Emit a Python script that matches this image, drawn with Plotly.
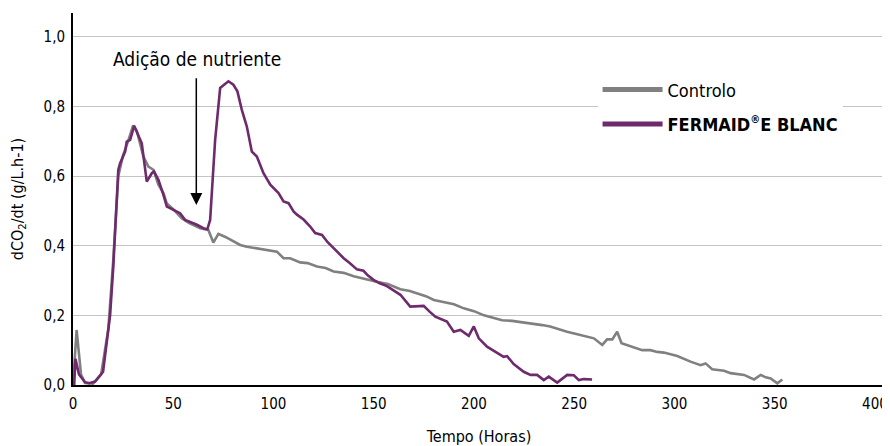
import plotly.graph_objects as go

# Controlo (grey)
ctrl_h = [0, 1.8, 4, 6, 10, 14, 17.6, 20.1, 22.6, 25, 27.5, 30, 31.8, 33.5, 35.1, 37.6, 40.1, 42.6, 45.1, 46.8,
          50, 54.2, 58, 63.4, 67.5, 70, 72.5, 76, 80, 83.4, 86.7, 91, 95, 98, 101.7, 105, 108.3, 113.3, 117,
          121.7, 126, 130, 135, 140, 146.6, 152, 157, 163.3, 168, 172, 176, 180, 185, 190, 194.9, 200, 205,
          209.8, 214, 219, 224, 229.8, 234, 238, 242, 246.4, 250, 254.7, 259.8, 264, 266.4, 269, 271.4, 273.6,
          278, 283.9, 288, 291.4, 294.7, 301.4, 308, 313, 315.5, 318.8, 324.7, 328, 334.7, 339.7, 343, 345.5,
          348, 351.3, 353.8]
ctrl_v = [0.0, 0.158, 0.03, 0.006, 0.004, 0.03, 0.16, 0.36, 0.6, 0.66, 0.7, 0.745, 0.73, 0.69, 0.656, 0.627,
          0.618, 0.575, 0.551, 0.521, 0.505, 0.479, 0.465, 0.45, 0.445, 0.409, 0.434, 0.425, 0.412, 0.402,
          0.397, 0.393, 0.388, 0.385, 0.383, 0.364, 0.364, 0.352, 0.35, 0.34, 0.336, 0.326, 0.322, 0.312,
          0.302, 0.296, 0.29, 0.275, 0.27, 0.262, 0.255, 0.244, 0.238, 0.232, 0.22, 0.212, 0.2, 0.192, 0.186,
          0.184, 0.18, 0.177, 0.172, 0.168, 0.16, 0.153, 0.148, 0.141, 0.134, 0.115, 0.131, 0.131, 0.153, 0.12,
          0.112, 0.1, 0.1, 0.095, 0.093, 0.083, 0.067, 0.057, 0.062, 0.045, 0.041, 0.034, 0.029, 0.016, 0.029,
          0.022, 0.019, 0.005, 0.016]

# FERMAID E BLANC (purple)
ferm_h = [0.6, 1.2, 3, 6, 8, 11, 15, 17.6, 18.5, 20.1, 22.6, 23.5, 26, 26.8, 28.5, 30.5, 31.8, 34.3, 36.8,
          39.3, 40.4, 42.6, 45.1, 46.8, 48.4, 53.4, 55.9, 61.8, 65, 67, 68.4, 69.2, 70.9, 73.4, 77.5, 80, 82,
          84.2, 86.7, 89.2, 91.7, 95, 98.4, 102.5, 105, 107.5, 110, 111.7, 115, 118.3, 120.8, 124.2, 127, 130,
          135, 138, 141.6, 144.9, 147, 149.9, 153, 156.6, 160, 163.3, 168.2, 174.9, 178, 180.7, 186.5, 189.9,
          193.2, 197.4, 199.9, 202.4, 206.5, 210.7, 214.8, 216.5, 219.8, 224.8, 228.2, 231.5, 234.8, 237.3,
          241.5, 246.5, 249.8, 252.3, 254.8, 258.9]
ferm_v = [0.0, 0.075, 0.03, 0.008, 0.005, 0.01, 0.038, 0.148, 0.2, 0.34, 0.618, 0.637, 0.67, 0.699, 0.704,
          0.744, 0.728, 0.694, 0.584, 0.608, 0.613, 0.589, 0.546, 0.512, 0.508, 0.493, 0.474, 0.46, 0.45, 0.447,
          0.474, 0.551, 0.704, 0.853, 0.872, 0.862, 0.843, 0.79, 0.742, 0.67, 0.656, 0.608, 0.575, 0.551, 0.527,
          0.522, 0.498, 0.489, 0.475, 0.455, 0.436, 0.431, 0.41, 0.393, 0.364, 0.35, 0.332, 0.328, 0.315, 0.302,
          0.292, 0.284, 0.272, 0.259, 0.225, 0.227, 0.21, 0.196, 0.182, 0.153, 0.158, 0.141, 0.168, 0.134, 0.11,
          0.096, 0.081, 0.083, 0.06, 0.038, 0.029, 0.029, 0.014, 0.024, 0.007, 0.029, 0.028, 0.014, 0.017,
          0.016]

y_ticks = [0, 0.2, 0.4, 0.6, 0.8, 1.0]
x_ticks = [0, 50, 100, 150, 200, 250, 300, 350, 400]

GREY = "#808080"
PURPLE = "#6e2a6c"
FONT = "DejaVu Sans Condensed, Liberation Sans Narrow, Roboto, sans-serif"

fig = go.Figure()
fig.add_trace(go.Scatter(x=ctrl_h, y=ctrl_v, mode="lines", line=dict(color=GREY, width=2.6),
                         showlegend=False, hoverinfo="skip"))
fig.add_trace(go.Scatter(x=ferm_h, y=ferm_v, mode="lines", line=dict(color=PURPLE, width=2.6),
                         showlegend=False, hoverinfo="skip"))
# legend entries
fig.add_trace(go.Scatter(x=[None], y=[None], mode="lines", name="Controlo", legendgroup="a",
                         line=dict(color=GREY, width=5)))
fig.add_trace(go.Scatter(x=[None], y=[None], mode="lines",
                         name="<b>FERMAID<sup><span style='font-size:11px'>®</span></sup>E BLANC</b>",
                         legendgroup="b", line=dict(color=PURPLE, width=5)))

fig.add_annotation(x=61.5, y=0.517, ax=61.5, ay=0.885, xref="x", yref="y", axref="x", ayref="y",
                   text="", showarrow=True, arrowhead=2, arrowsize=1.6, arrowwidth=1.5,
                   arrowcolor="black")
fig.add_annotation(x=61.8, y=0.935, xref="x", yref="y", text="Adição de nutriente", showarrow=False,
                   font=dict(size=19, color="black", family=FONT))

# page body has an 8px margin: figure is sized to fit inside the 890x446 window
fig.update_layout(
    width=882, height=438,
    margin=dict(l=65, r=5, t=5, b=61),
    plot_bgcolor="white", paper_bgcolor="white",
    separators=",.",
    font=dict(family=FONT, color="black", size=15),
    legend=dict(x=0.646, y=0.843, xanchor="left", yanchor="top", bgcolor="white",
                font=dict(size=18), itemwidth=60, tracegroupgap=8, traceorder="grouped"),
    xaxis=dict(range=[0, 405], tickvals=x_ticks, showgrid=False, showline=True, linecolor="black",
               linewidth=2, zeroline=False, ticks="", automargin=False, ticklabelstandoff=4,
               title=dict(text="Tempo (Horas)", font=dict(size=16), standoff=20)),
    yaxis=dict(range=[0, 1.068], tickvals=y_ticks, tickformat=".1f", showgrid=True,
               gridcolor="#c4c4c4", gridwidth=1, showline=True, linecolor="black", linewidth=2,
               zeroline=False, ticks="", automargin=False, ticklabelstandoff=3,
               title=dict(text="dCO<sub>2</sub>/dt (g/L.h-1)", font=dict(size=16), standoff=26)),
)
fig.write_html("out.html")
